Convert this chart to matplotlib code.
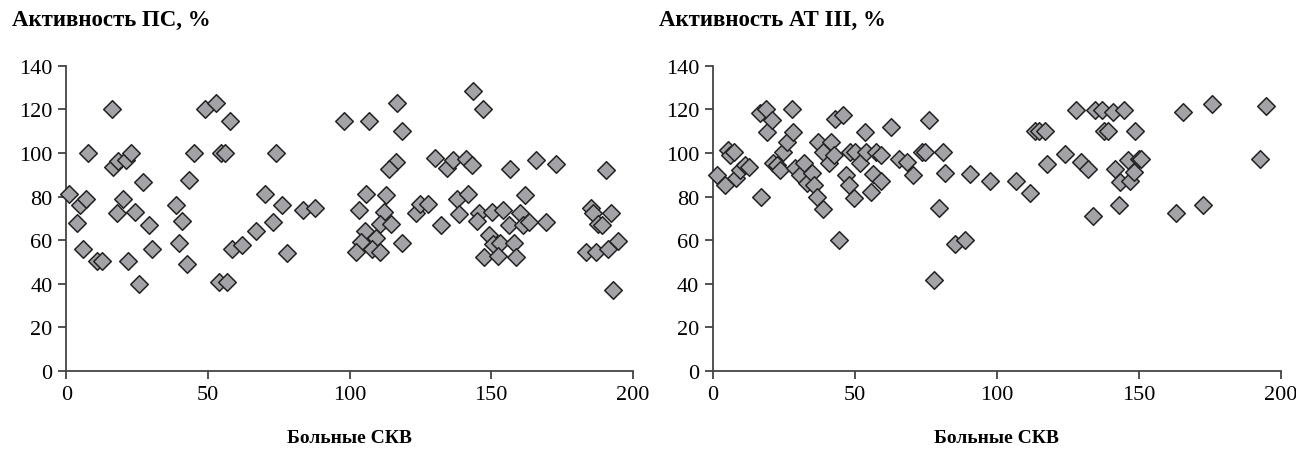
import matplotlib.pyplot as plt

plt.rcParams['font.family'] = ['Liberation Serif', 'DejaVu Serif']

# Активность ПС
ps_x = [1, 3.8, 4.7, 6.8, 5.9, 7.6, 10.6, 12.4, 15.9, 16.5, 18.2, 17.9, 20, 20.9, 22.9,
        21.8, 24.1, 25.6, 27, 29, 30.2, 38.5, 40.9, 39.8, 42.4, 43.2, 45, 48.8, 52.7,
        57.6, 54.4, 56.1, 53.9, 56.7, 58.5, 62, 66.8, 70.2, 72.9, 73.9, 76.1, 77.9,
        83.5, 87.6, 97.9, 106.8, 116.7, 118.6, 143.5, 147.1, 116.2, 113.9, 130.1,
        134.4, 136.5, 141, 143.3, 156.7, 165.9, 173, 190.4, 105.6, 112.7, 103.2,
        112.1, 110.6, 114.7, 105.5, 109.4, 104.1, 102.4, 107.9, 110.8, 118.4, 123.5,
        124.9, 127.6, 132.1, 137.9, 141.8, 138.6, 145.6, 144.9, 150.2, 154.1, 149.1,
        150.6, 153, 147.5, 152.4, 157.9, 158.6, 156.1, 160, 161.2, 163.3, 161.9,
        169.2, 185.1, 185.9, 192.4, 187.6, 189.2, 183.5, 187.1, 191.2, 194.9, 192.9]
ps_y = [81.2, 68, 76, 79, 56, 100, 50.7, 50.7, 120, 93.4, 96.5, 72.4, 79, 97, 100,
        50.7, 73, 39.7, 86.9, 67, 56, 76, 68.7, 58.8, 48.9, 87.8, 100, 120, 123,
        114.8, 100, 100, 40.8, 40.8, 56, 57.9, 64.4, 81.2, 68.5, 100, 76, 54.2,
        74, 74.8, 114.7, 114.7, 123, 110, 128.4, 120, 95.9, 92.5, 97.6,
        93.3, 96.8, 97.1, 94.4, 92.5, 96.8, 94.8, 92.2, 81.4, 80.6, 73.9,
        73.1, 67.6, 67.6, 64.3, 61.2, 59.2, 54.4, 55.9, 54.4, 58.9, 72.7,
        76.5, 76.5, 66.9, 78.8, 81.1, 71.9, 72.4, 68.9, 73.1, 73.9, 62.3,
        58.2, 58.9, 52.1, 52.8, 58.9, 52.1, 66.9, 72.7, 66.9, 68.5, 80.6,
        68.5, 74.8, 72.4, 72.4, 67.3, 67, 54.4, 54.4, 55.9, 59.7, 37.3]

# Активность АТ III
at_x = [1.4, 4.1, 5.3, 5.9, 7.3, 8, 9.5, 11.2, 12.8, 16.5, 18.7, 16.9, 18.9, 20.7,
        21.1, 22.7, 23.6, 24.5, 26, 27.8, 28.1, 29, 30.7, 32.2, 33.1, 34.9, 35.5,
        36.7, 36.9, 38.7, 38.7, 41.4, 40.8, 42.6, 42.8, 45.7, 44.5, 46.7, 48.2,
        47.9, 49.6, 50, 51.8, 53.5, 54, 55.8, 56.5, 57.3, 59.1, 59.3, 62.6, 65.4,
        68.2, 70.6, 73.6, 74.5, 76.2, 77.7, 79.6, 81, 81.6, 85.1, 88.7, 90.7,
        97.5, 106.7, 111.8, 117.5, 124.1, 113.5, 115, 117.1, 127.9, 129.7, 132,
        133.8, 134.4, 137.1, 137.6, 139.1, 140.9, 144.8, 141.5, 143.5, 142.9,
        146.2, 146.8, 148.2, 148.8, 150, 150.9, 163, 165.6, 172.7, 175.9, 192.7,
        194.7]
at_y = [89.9, 85.3, 101.4, 99, 100.6, 88.4, 92.2, 94.5, 93.7, 118.2, 120, 80, 109.8,
        115.2, 95.6, 94.5, 92.2, 100.3, 105.2, 120, 109.8, 93, 89.9, 95.3, 86.1,
        90.7, 85.3, 80, 105.2, 100.6, 74.3, 105.2, 95.3, 99, 115.5, 117.5, 60,
        89.9, 100.6, 85.3, 79.2, 100.6, 95.3, 109.8, 100.6, 82.2, 90.2, 100.6,
        87.1, 99, 111.8, 97.5, 96, 89.9, 100.3, 100.3, 115.2, 41.7, 74.6, 100.3,
        90.7, 58.5, 60, 90.2, 87, 87, 81.6, 95.1, 99.7, 110, 110, 110, 119.9,
        95.9, 92.5, 70.9, 119.9, 119.9, 110, 110, 118.8, 119.9, 92.8, 86.7, 76.3,
        96.6, 87.4, 91.3, 110, 97.1, 97.4, 72.6, 118.8, 76.3, 122.7, 97.1, 121.6]

titles = ["Активность ПС, %", "Активность АТ III, %"]
xlabel = "Больные СКВ"

fig = plt.figure(figsize=(12.96, 4.52), dpi=100)
ax1 = fig.add_axes([0.0513, 0.177, 0.437, 0.675])
ax2 = fig.add_axes([0.5502, 0.177, 0.438, 0.675])

for ax, xs, ys, title in [(ax1, ps_x, ps_y, titles[0]), (ax2, at_x, at_y, titles[1])]:
    ax.scatter(xs, ys, marker="D", s=80, facecolor="#a3a3a7", edgecolor="#222222",
               linewidth=1.1, clip_on=False, zorder=3)
    ax.set_xlim(0, 200)
    ax.set_ylim(0, 140)
    ax.set_xticks([0, 50, 100, 150, 200])
    ax.set_yticks(range(0, 141, 20))
    for s in ["top", "right"]:
        ax.spines[s].set_visible(False)
    for s in ["left", "bottom"]:
        ax.spines[s].set_color("#444444")
        ax.spines[s].set_linewidth(1.3)
    ax.tick_params(direction="out", length=6, width=1.3, color="#444444",
                   labelsize=16, pad=4)
    ax.set_xlabel(xlabel, fontsize=14, fontweight="bold", labelpad=18)
    pos = ax.get_position()
    fig.text(pos.x0 - 0.042, 0.955, title, fontsize=16.5, fontweight="bold",
             ha="left", va="center")

fig.savefig("out.png", dpi=100)
